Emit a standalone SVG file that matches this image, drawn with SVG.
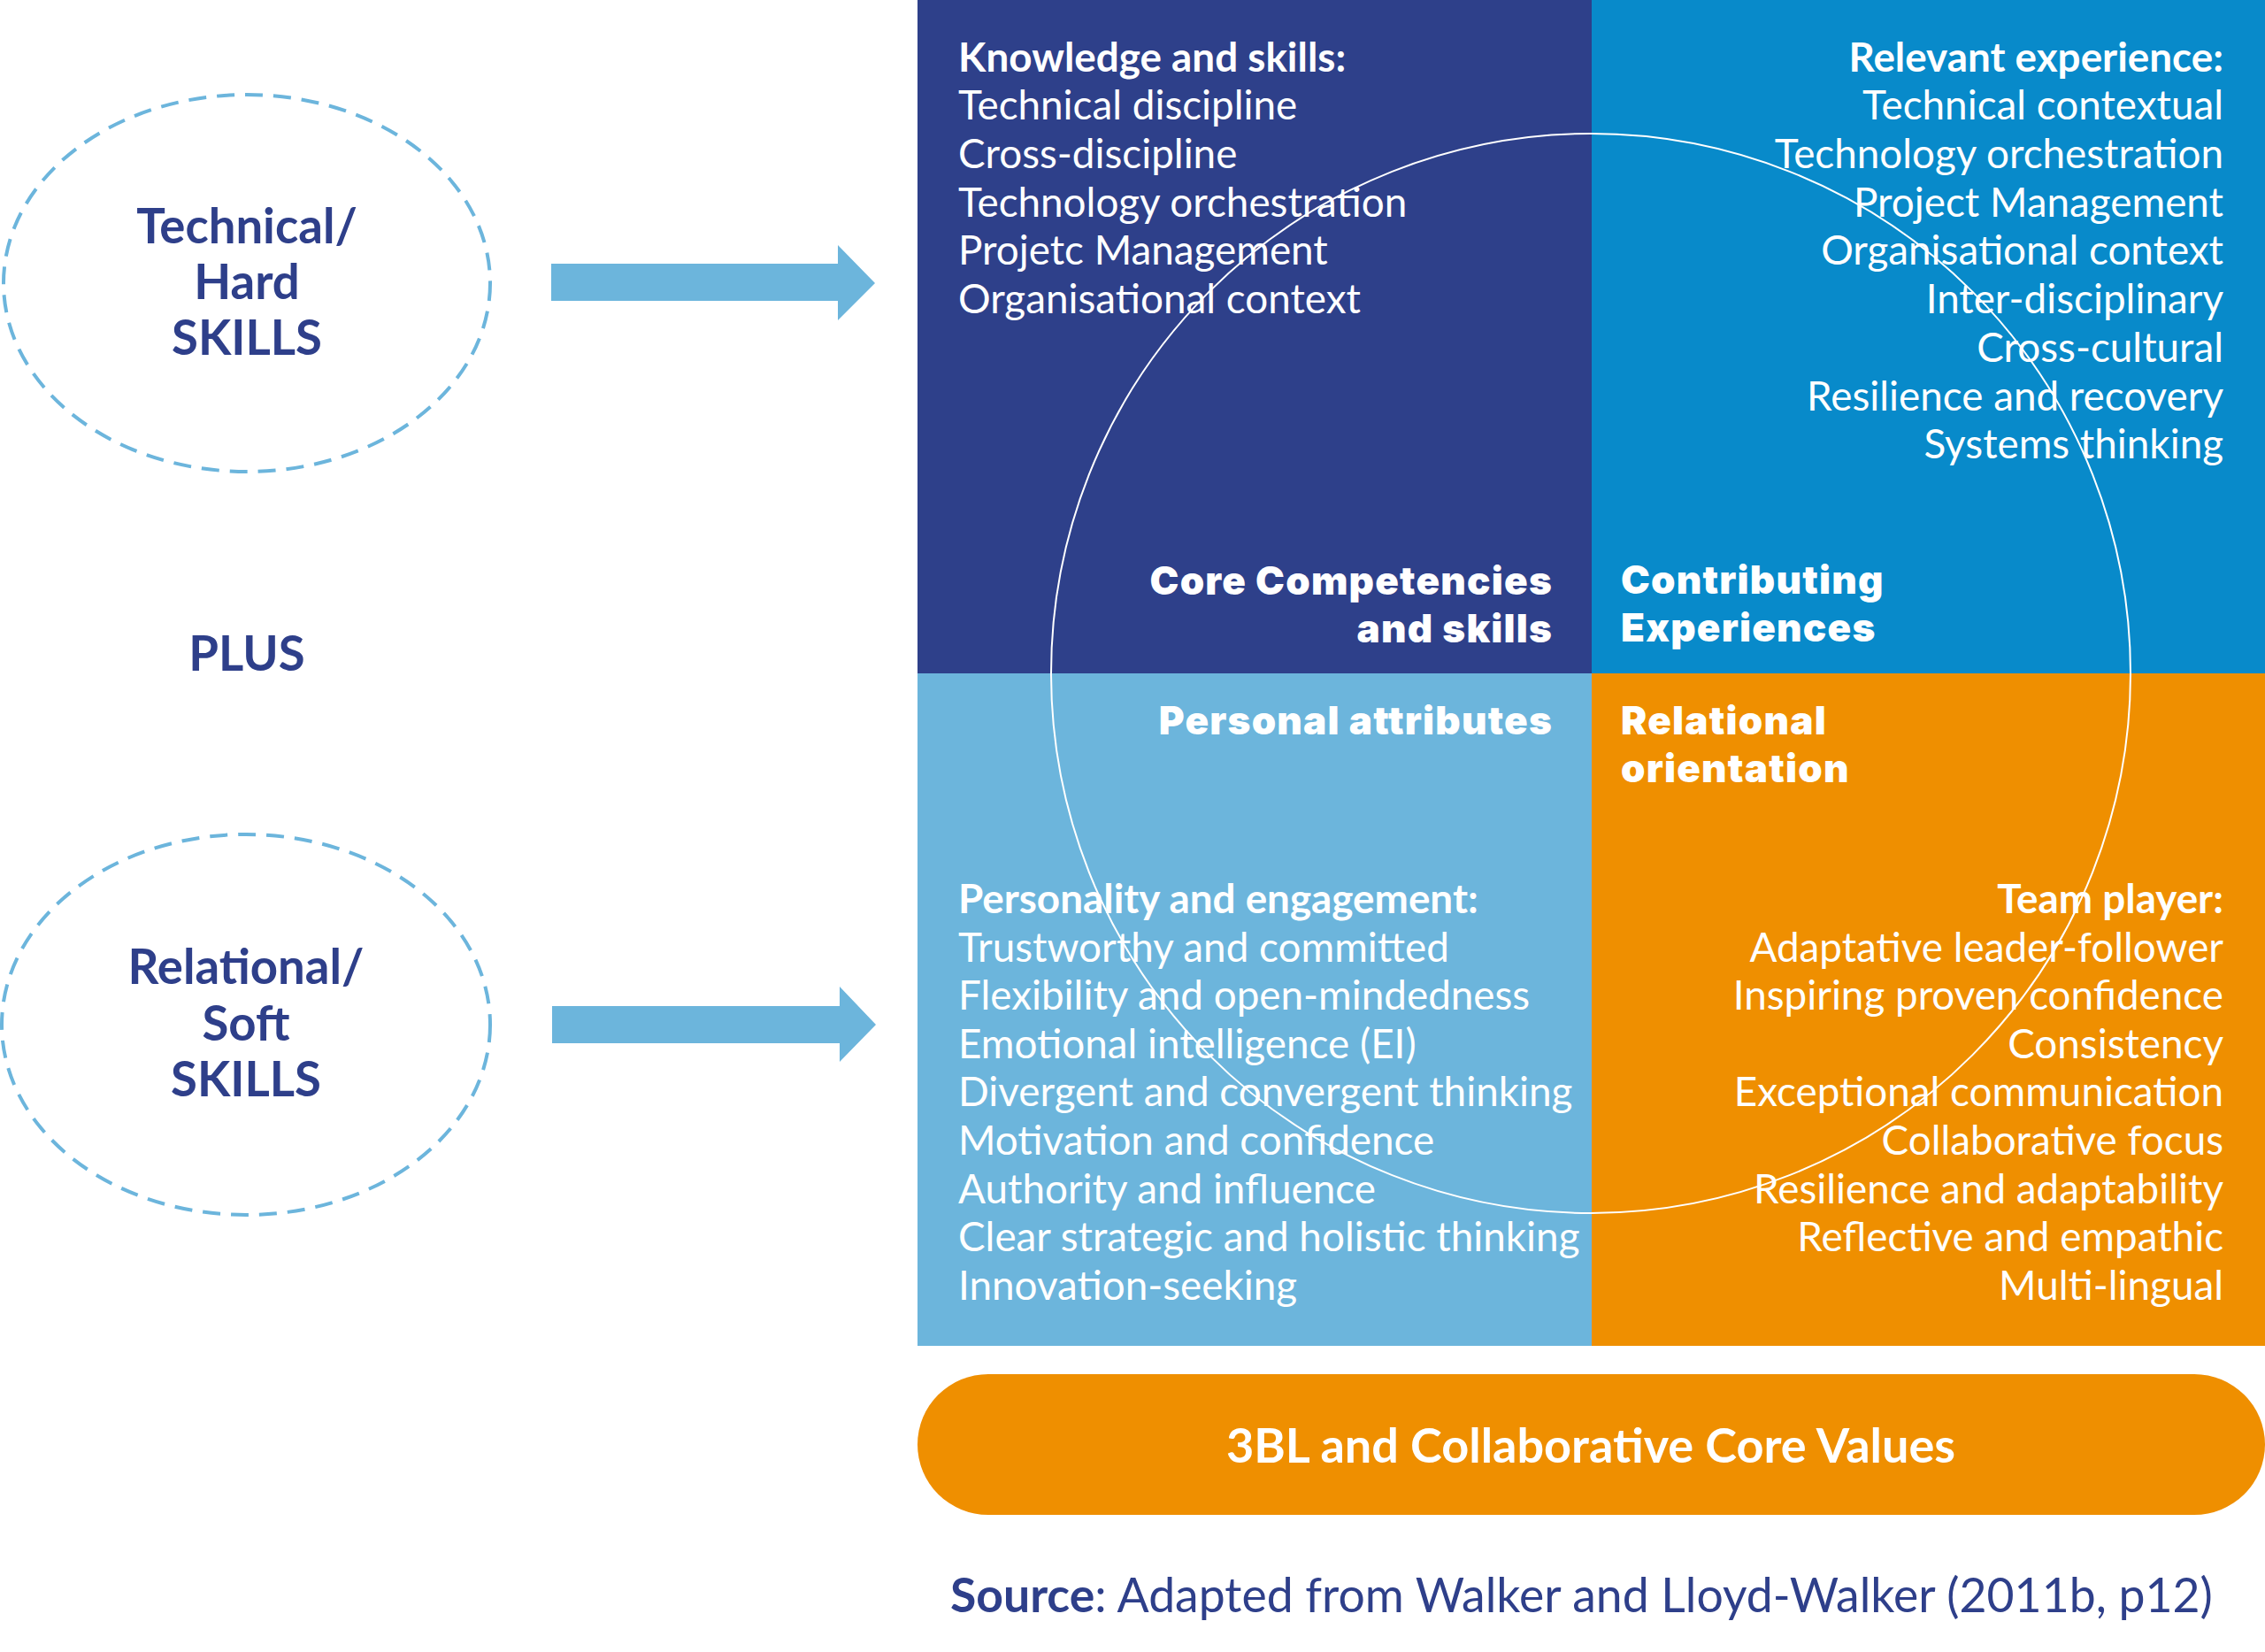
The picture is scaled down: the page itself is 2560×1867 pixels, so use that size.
<svg xmlns="http://www.w3.org/2000/svg" width="2560" height="1867" viewBox="0 0 2560 1867">
<style>
.lbl{font-family:Lato,"Liberation Sans",sans-serif;font-weight:700;font-size:54.5px;fill:#2e3f8a;text-anchor:middle}
.body{font-family:Lato,"Liberation Sans",sans-serif;font-size:45.8px;fill:#ffffff}
.hd{font-weight:700}
.ttl{font-family:Inter,"Open Sans","Liberation Sans",sans-serif;font-weight:900;font-size:44px;letter-spacing:1.2px;fill:#ffffff}
.r{text-anchor:end}
.dash{fill:none;stroke:#6cb5dc;stroke-width:4;stroke-dasharray:20 12}
.arrow{fill:#6cb5dc}
</style>
<rect width="2560" height="1867" fill="#ffffff"/>

<g id="hard-skills">
<ellipse class="dash" cx="279" cy="320" rx="275" ry="213"/>
<text class="lbl" x="279" y="275">Technical/</text>
<text class="lbl" x="279" y="338">Hard</text>
<text class="lbl" x="279" y="401">SKILLS</text>
</g>

<g id="plus">
<text class="lbl" x="279" y="758">PLUS</text>
</g>

<g id="soft-skills">
<ellipse class="dash" cx="278" cy="1158" rx="276" ry="215"/>
<text class="lbl" x="278" y="1112">Relational/</text>
<text class="lbl" x="278" y="1176">Soft</text>
<text class="lbl" x="278" y="1239">SKILLS</text>
</g>

<g id="connectors">
<polygon class="arrow" points="623,298 947,298 947,277 989,320 947,362 947,340 623,340"/>
<polygon class="arrow" points="624,1137 949,1137 949,1115 990,1158 949,1200 949,1179 624,1179"/>
</g>

<g id="core-competencies">
<rect x="1037" y="0" width="762" height="761" fill="#2e408a"/>
</g>
<g id="contributing-experiences">
<rect x="1799" y="0" width="761" height="761" fill="#088aca"/>
</g>
<g id="personal-attributes">
<rect x="1037" y="761" width="762" height="760" fill="#6cb5dc"/>
</g>
<g id="relational-orientation">
<rect x="1799" y="761" width="761" height="760" fill="#ef8f00"/>
</g>

<circle cx="1798" cy="761" r="610" fill="none" stroke="#ffffff" stroke-width="2"/>

<g id="core-text">
<text class="body hd" x="1083" y="81">Knowledge and skills:</text>
<text class="body" x="1083" y="135">Technical discipline</text>
<text class="body" x="1083" y="190">Cross-discipline</text>
<text class="body" x="1083" y="245">Technology orchestration</text>
<text class="body" x="1083" y="299">Projetc Management</text>
<text class="body" x="1083" y="354">Organisational context</text>
<text class="ttl r" x="1755" y="672">Core Competencies</text>
<text class="ttl r" x="1755" y="726">and skills</text>
</g>

<g id="contributing-text">
<text class="body hd r" x="2513" y="81">Relevant experience:</text>
<text class="body r" x="2513" y="135">Technical contextual</text>
<text class="body r" x="2513" y="190">Technology orchestration</text>
<text class="body r" x="2513" y="245">Project Management</text>
<text class="body r" x="2513" y="299">Organisational context</text>
<text class="body r" x="2513" y="354">Inter-disciplinary</text>
<text class="body r" x="2513" y="409">Cross-cultural</text>
<text class="body r" x="2513" y="464">Resilience and recovery</text>
<text class="body r" x="2513" y="518">Systems thinking</text>
<text class="ttl" x="1832" y="671">Contributing</text>
<text class="ttl" x="1832" y="725">Experiences</text>
</g>

<g id="personal-text">
<text class="ttl r" x="1755" y="830">Personal attributes</text>
<text class="body hd" x="1083" y="1032">Personality and engagement:</text>
<text class="body" x="1083" y="1087">Trustworthy and committed</text>
<text class="body" x="1083" y="1141">Flexibility and open-mindedness</text>
<text class="body" x="1083" y="1196">Emotional intelligence (EI)</text>
<text class="body" x="1083" y="1250">Divergent and convergent thinking</text>
<text class="body" x="1083" y="1305">Motivation and confidence</text>
<text class="body" x="1083" y="1360">Authority and influence</text>
<text class="body" x="1083" y="1414">Clear strategic and holistic thinking</text>
<text class="body" x="1083" y="1469">Innovation-seeking</text>
</g>

<g id="relational-text">
<text class="ttl" x="1832" y="830">Relational</text>
<text class="ttl" x="1832" y="884">orientation</text>
<text class="body hd r" x="2513" y="1032">Team player:</text>
<text class="body r" x="2513" y="1087">Adaptative leader-follower</text>
<text class="body r" x="2513" y="1141">Inspiring proven confidence</text>
<text class="body r" x="2513" y="1196">Consistency</text>
<text class="body r" x="2513" y="1250">Exceptional communication</text>
<text class="body r" x="2513" y="1305">Collaborative focus</text>
<text class="body r" x="2513" y="1360">Resilience and adaptability</text>
<text class="body r" x="2513" y="1414">Reflective and empathic</text>
<text class="body r" x="2513" y="1469">Multi-lingual</text>
</g>

<g id="core-values">
<rect x="1037" y="1553" width="1523" height="159" rx="80" ry="80" fill="#ef8f00"/>
<text x="1798" y="1653" font-family="Lato,'Liberation Sans',sans-serif" font-weight="700" font-size="54" fill="#ffffff" text-anchor="middle">3BL and Collaborative Core Values</text>
</g>

<g id="source">
<text x="1074" y="1822" font-family="Lato,'Liberation Sans',sans-serif" font-size="53.5" fill="#2e3f8a"><tspan font-weight="700">Source</tspan>: Adapted from Walker and Lloyd-Walker (2011b, p12)</text>
</g>
</svg>
